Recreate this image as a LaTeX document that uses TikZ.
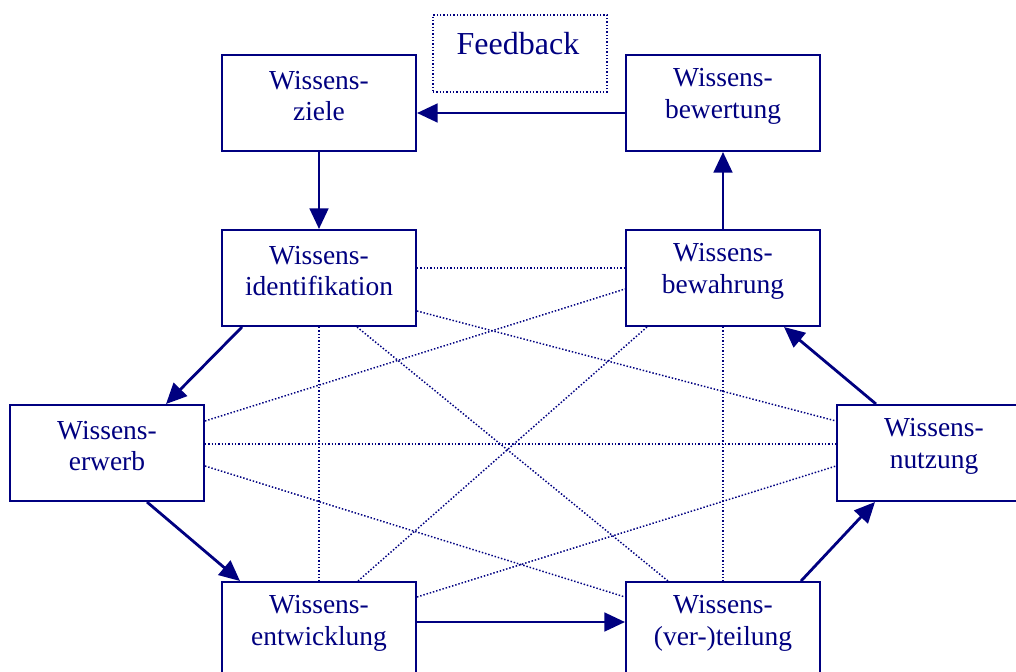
\documentclass[tikz,border=0pt]{standalone}
\usepackage{fontspec}
\setmainfont{Liberation Serif}
\usetikzlibrary{arrows.meta,calc}
\definecolor{ink}{RGB}{0,0,128}
\begin{document}
\begin{tikzpicture}[x=0.75pt,y=-0.75pt,
  box/.style={draw=ink,line width=1.5pt,minimum width=145.5pt,minimum height=72pt,inner sep=0pt,fill=white},
  txt/.style={text=ink,align=center,font=\fontsize{20.6}{23.4}\selectfont,yshift=5pt},
  flow/.style={draw=ink,line width=2.1pt,-{Triangle[length=15.5pt,width=14pt]}},
  link/.style={draw=ink,line width=1.1pt,dash pattern=on 1.1pt off 1.4pt}]
\useasboundingbox (0,0) rectangle (1016,671);
\node[box,label={[txt]center:Wissens-\\ziele}] (ziele) at (319,103) {};
\node[box,label={[txt]center:Wissens-\\bewertung}] (bewert) at (723,103) {};
\node[box,label={[txt]center:Wissens-\\identifikation}] (ident) at (319,278) {};
\node[box,label={[txt]center:Wissens-\\bewahrung}] (bewahr) at (723,278) {};
\node[box,label={[txt]center:Wissens-\\erwerb}] (erwerb) at (107,453) {};
\node[box,label={[txt]center:Wissens-\\nutzung}] (nutz) at (934,453) {};
\node[box,label={[txt]center:Wissens-\\entwicklung}] (entw) at (319,630) {};
\node[box,label={[txt]center:Wissens-\\(ver-)teilung}] (teil) at (723,630) {};
\node[draw=ink,line width=1.1pt,dash pattern=on 1.1pt off 1.4pt,minimum width=130.5pt,minimum height=57.75pt,inner sep=0pt,
  label={[text=ink,font=\fontsize{24}{28}\selectfont,yshift=7.5pt,xshift=-1.5pt]center:Feedback}] (fb) at (520,53.5) {};
% dotted links
\draw[link] ($(ident.east)+(0,-10)$) -- ($(bewahr.west)+(0,-10)$);
\draw[link] ($(ident.south east)+(0,-16)$) -- ($(nutz.north west)+(0,17)$);
\draw[link] ($(erwerb.north east)+(0,17)$) -- ($(bewahr.west)+(0,11)$);
\draw[link] ($(erwerb.east)+(0,-9)$) -- ($(nutz.west)+(0,-9)$);
\draw[link] ($(erwerb.south east)+(0,-36)$) -- ($(teil.north west)+(0,16)$);
\draw[link] ($(entw.north east)+(0,16)$) -- ($(nutz.south west)+(0,-36)$);
\draw[link] (ident.south) -- (entw.north);
\draw[link] ($(ident.south)+(38,0)$) -- ($(teil.north west)+(43,0)$);
\draw[link] ($(bewahr.south west)+(22,0)$) -- ($(entw.north)+(39,0)$);
\draw[link] (bewahr.south) -- (teil.north);
% flow arrows
\draw[flow] ($(bewert.west)+(0,10)$) -- ($(ziele.east)+(0,10)$);
\draw[flow] (ziele.south) -- (ident.north);
\draw[flow] (bewahr.north) -- (bewert.south);
\draw[flow] ($(ident.south west)+(21,0)$) -- ($(erwerb.north east)+(-39,0)$);
\draw[flow] ($(erwerb.south east)+(-58,0)$) -- ($(entw.north west)+(19,0)$);
\draw[flow] ($(entw.east)+(0,-8)$) -- ($(teil.west)+(0,-8)$);
\draw[flow] ($(teil.north east)+(-20,0)$) -- ($(nutz.south west)+(39,0)$);
\draw[flow] ($(nutz.north west)+(40,0)$) -- ($(bewahr.south east)+(-37,0)$);
\end{tikzpicture}
\end{document}
